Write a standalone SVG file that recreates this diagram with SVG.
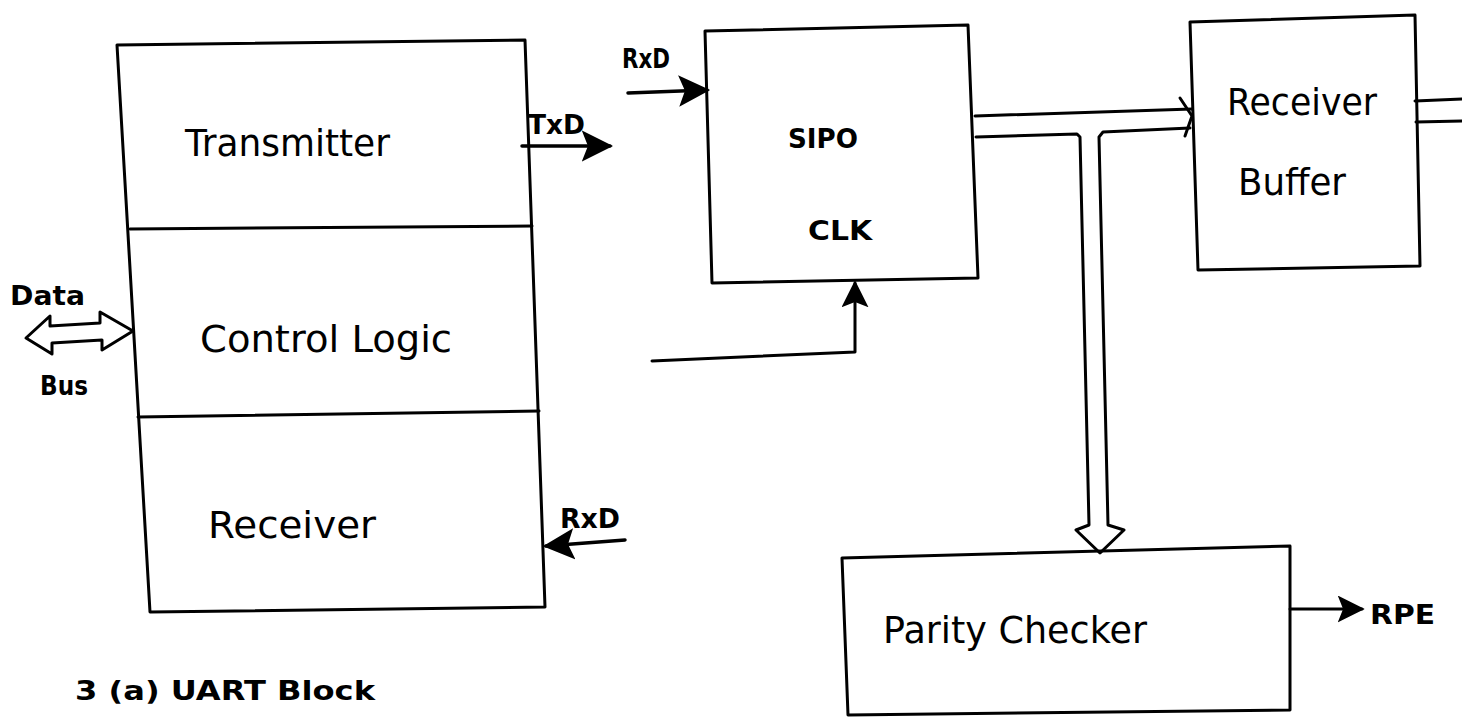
<svg xmlns="http://www.w3.org/2000/svg" width="1462" height="721" viewBox="0 0 1462 721">
<style>
.ln{fill:none;stroke:#000;stroke-width:3;stroke-linecap:round;stroke-linejoin:round}
.thk{fill:none;stroke:#000;stroke-width:3.5;stroke-linecap:round;stroke-linejoin:round}
.t{font-family:"DejaVu Sans","Liberation Sans",sans-serif;fill:#000}
.big{font-size:38px}
.sm{font-size:26px;font-weight:bold}
</style>
<defs>
<marker id="ahb" viewBox="0 0 10 10" refX="9" refY="5" markerWidth="9" markerHeight="9" orient="auto"><path d="M0,0 L10,5 L0,10 L2,5 z" fill="#000"/></marker>
</defs>
<rect width="1462" height="721" fill="#fff"/>
<g id="uart">
<polygon class="ln" points="117,45 525,40 545,607 150,612"/>
<line class="ln" x1="130" y1="229" x2="532" y2="226"/>
<line class="ln" x1="138" y1="417" x2="539" y2="411"/>
<text class="t big" x="185" y="156" textLength="205" lengthAdjust="spacingAndGlyphs">Transmitter</text>
<text class="t big" x="200" y="352" textLength="252" lengthAdjust="spacingAndGlyphs">Control Logic</text>
<text class="t big" x="208" y="538" textLength="168" lengthAdjust="spacingAndGlyphs">Receiver</text>
</g>
<g id="sipo">
<polygon class="ln" points="705,31 968,25 978,278 712,283"/>
<text class="t sm" x="788" y="148" textLength="70" lengthAdjust="spacingAndGlyphs">SIPO</text>
<text class="t sm" x="808" y="240" textLength="64" lengthAdjust="spacingAndGlyphs">CLK</text>
</g>
<g id="rxbuf">
<polygon class="ln" points="1190,22 1415,15 1420,266 1198,270"/>
<text class="t big" x="1227" y="115" font-size="34" textLength="150" lengthAdjust="spacingAndGlyphs">Receiver</text>
<text class="t big" x="1238" y="195" font-size="34" textLength="108" lengthAdjust="spacingAndGlyphs">Buffer</text>
</g>
<g id="parity">
<polygon class="ln" points="842,558 1290,546 1290,710 848,715"/>
<text class="t big" x="883" y="643" font-size="40" textLength="264" lengthAdjust="spacingAndGlyphs">Parity Checker</text>
</g>
<g id="labels">
<text class="t sm" x="10" y="305" textLength="75" lengthAdjust="spacingAndGlyphs">Data</text>
<text class="t sm" x="40" y="395" textLength="48" lengthAdjust="spacingAndGlyphs">Bus</text>
<text class="t sm" x="528" y="134" textLength="57" lengthAdjust="spacingAndGlyphs">TxD</text>
<text class="t sm" x="622" y="68" textLength="48" lengthAdjust="spacingAndGlyphs">RxD</text>
<text class="t sm" x="560" y="528" textLength="60" lengthAdjust="spacingAndGlyphs">RxD</text>
<text class="t sm" x="1370" y="624" textLength="65" lengthAdjust="spacingAndGlyphs">RPE</text>
<text class="t sm" x="75" y="700" font-size="30" textLength="300" lengthAdjust="spacingAndGlyphs">3 (a)  UART  Block</text>
</g>
<g id="connectors">
<path class="ln" d="M50,326 L100,323 L100,312 L133,331 L102,350 L102,340 L52,343 L52,354 L26,338 L50,316 Z"/>
<line class="thk" x1="522" y1="146" x2="610" y2="146" marker-end="url(#ahb)"/>
<line class="thk" x1="628" y1="93" x2="707" y2="90" marker-end="url(#ahb)"/>
<polyline class="ln" points="652,361 855,352 855,283" marker-end="url(#ahb)"/>
<line class="thk" x1="625" y1="540" x2="546" y2="546" marker-end="url(#ahb)"/>
<polyline class="ln" points="975,116 1192,109"/>
<polyline class="ln" points="976,137 1077,134 1080,137 1089,525 1076,530 1100,553 1124,530 1108,525 1099,137 1103,132 1190,128"/>
<polyline class="ln" points="1180,98 1192,116 1185,136"/>
<line class="ln" x1="1415" y1="101" x2="1462" y2="99"/>
<line class="ln" x1="1416" y1="122" x2="1462" y2="121"/>
<line class="ln" x1="1290" y1="609" x2="1362" y2="609" marker-end="url(#ahb)"/>
</g>
</svg>
